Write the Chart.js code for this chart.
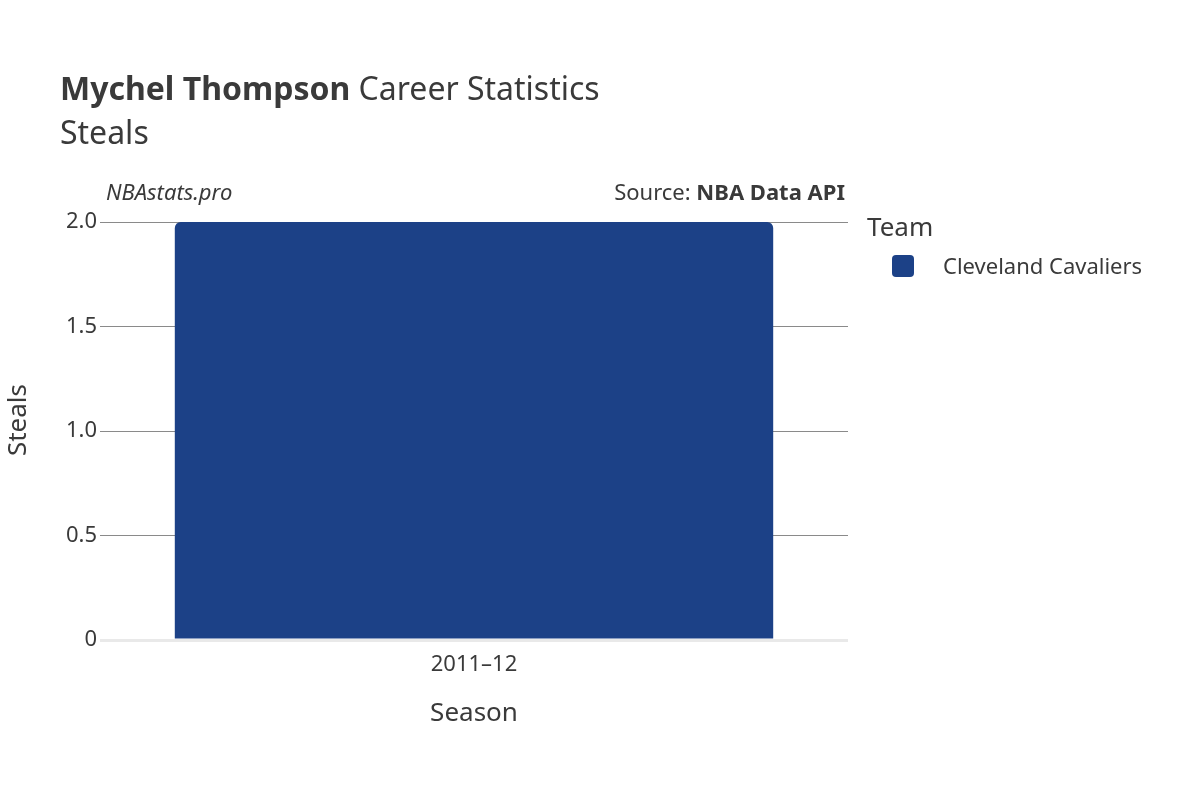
<!DOCTYPE html>
<html><head><meta charset="utf-8">
<script src="https://cdn.jsdelivr.net/npm/chart.js@4"></script>
<style>html,body{margin:0;background:#fff}#w{width:1200px;height:800px}</style>
</head><body><div id="w"><canvas id="c"></canvas></div>
<script>
const seasons = ["2011–12"];
const steals = [2];
const teamName = "Cleveland Cavaliers";
const teamColor = "#1c4187";
const yTicks = [0, 0.5, 1, 1.5, 2];
const F = "'Noto Sans', sans-serif";
const txt = "#3a3a3a";

const deco = {
  id: 'deco',
  afterDraw(ch) {
    const c = ch.ctx; c.save(); c.fillStyle = txt; c.textBaseline = 'alphabetic';
    c.font = "bold 32px " + F; c.textAlign = 'left';
    c.fillText("Mychel Thompson", 60, 100);
    const w = c.measureText("Mychel Thompson").width;
    c.font = "32px " + F; c.fillText(" Career Statistics", 60 + w, 100);
    c.fillText("Steals", 60, 144);
    c.font = "italic 22px " + F; c.fillText("NBAstats.pro", 106, 200);
    c.textAlign = 'right'; c.font = "bold 22px " + F;
    c.fillText("NBA Data API", 845, 200);
    const bw = c.measureText("NBA Data API").width;
    c.font = "22px " + F; c.fillText("Source: ", 845 - bw, 200);
    c.textAlign = 'center'; c.font = "26px " + F;
    c.fillText("Season", 474, 721);
    c.save(); c.translate(26, 420); c.rotate(-Math.PI / 2); c.fillText("Steals", 0, 0); c.restore();
    c.textAlign = 'left'; c.font = "26px " + F; c.fillText("Team", 867, 236);
    c.fillStyle = teamColor; c.beginPath(); c.roundRect(892, 255, 22, 22, 4); c.fill();
    c.fillStyle = txt; c.font = "22px " + F; c.fillText(teamName, 943, 274);
    c.restore();
  }
};

new Chart(document.getElementById('c'), {
  type: 'bar',
  data: { labels: seasons, datasets: [{ label: teamName, data: steals, backgroundColor: teamColor,
    borderRadius: { topLeft: 6, topRight: 6 }, borderSkipped: 'bottom',
    categoryPercentage: 1, barPercentage: 0.8 }] },
  options: {
    responsive: true, maintainAspectRatio: false, animation: false,
    layout: { padding: { left: 0, right: 352, top: 222, bottom: 0 } },
    plugins: { legend: { display: false }, tooltip: { enabled: false } },
    scales: {
      x: { grid: { display: false }, border: { display: false },
        ticks: { color: txt, font: { family: F, size: 22 }, padding: 4 },
        afterFit(s) { s.height = 160; } },
      y: { min: 0, max: 2, afterBuildTicks(s) { s.ticks = yTicks.map(v => ({ value: v })); },
        border: { display: false },
        grid: { drawTicks: false, color: ctx => ctx.tick && ctx.tick.value === 0 ? '#e9e9e9' : '#8a8a8a',
          lineWidth: ctx => ctx.tick && ctx.tick.value === 0 ? 3 : 1 },
        ticks: { color: txt, font: { family: F, size: 22 }, padding: 3 },
        afterFit(s) { s.width = 100; } }
    }
  },
  plugins: [deco]
});
</script></body></html>
